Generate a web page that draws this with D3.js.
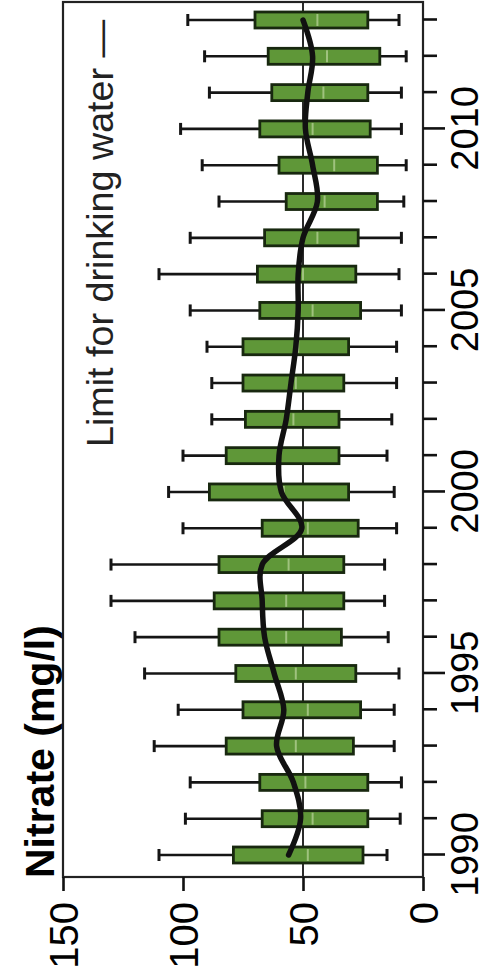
<!DOCTYPE html>
<html><head><meta charset="utf-8">
<script src="https://cdn.jsdelivr.net/npm/d3@7"></script>
<style>html,body{margin:0;padding:0;background:#fff;}svg{display:block;}</style>
</head><body>
<script>
const years = [1990,1991,1992,1993,1994,1995,1996,1997,1998,1999,2000,2001,2002,2003,2004,2005,2006,2007,2008,2009,2010,2011,2012,2013];
const whiskerHigh = [110,99,97,112,102,116,120,130,130,100,106,100,88,88,90,97,110,97,85,92,101,89,91,98];
const q3 = [79,67,68,82,75,78,85,87,85,67,89,82,74,75,75,68,69,66,57,60,68,63,64.5,70];
const median = [48,46,49,53,48,53,57,57,56,48,58,60,54,53,52,46,50,44,41,37,46,41.5,40,44];
const q1 = [25,23,23,29,26,28,34,33,33,27,31,35,35,33,31,26,28,27,19,19,22,23,18,23];
const whiskerLow = [15,9.5,9,12,12,10,14.5,16,16,11,12,15,13,11,11,9,10,9,8,7,9,9,7,10];
const trend = [56,51,54,61,58,62,66,67,67,50.5,59,60,57,55,53,52,52,50,44,46,49,48,46,50];
const valueTicks = [0,50,100,150];
const labelYears = [1990,1995,2000,2005,2010];
const limitValue = 50;
const titleText = "Nitrate (mg/l)";
const legendText = "Limit for drinking water \u2014";

const W = 488, H = 980;
const svg = d3.select("body").append("svg").attr("width", W).attr("height", H);
// draw in a rotated frame: inner x -> outer up, inner y -> outer right
const g = svg.append("g").attr("transform", `translate(0,${H}) rotate(-90)`);

const x = d3.scaleLinear().domain([1990, 2013]).range([125, 960]);
const y = d3.scaleLinear().domain([0, 150]).range([423, 63]);
const font = "'Liberation Sans', Arial, Helvetica, sans-serif";

// limit line
g.append("line")
  .attr("x1", 103).attr("x2", 978)
  .attr("y1", y(limitValue)).attr("y2", y(limitValue))
  .attr("stroke", "#2a2a2a").attr("stroke-width", 2);

const data = years.map((yr, i) => ({yr, hi: whiskerHigh[i], q3: q3[i], med: median[i], q1: q1[i], lo: whiskerLow[i]}));
const bw = 16, cap = 12;
const bx = g.append("g").selectAll("g").data(data).join("g");
bx.append("line").attr("x1", d => x(d.yr)).attr("x2", d => x(d.yr))
  .attr("y1", d => y(d.hi)).attr("y2", d => y(d.lo))
  .attr("stroke", "#151515").attr("stroke-width", 2.6);
bx.append("line").attr("x1", d => x(d.yr) - cap/2).attr("x2", d => x(d.yr) + cap/2)
  .attr("y1", d => y(d.hi)).attr("y2", d => y(d.hi))
  .attr("stroke", "#151515").attr("stroke-width", 3);
bx.append("line").attr("x1", d => x(d.yr) - cap/2).attr("x2", d => x(d.yr) + cap/2)
  .attr("y1", d => y(d.lo)).attr("y2", d => y(d.lo))
  .attr("stroke", "#151515").attr("stroke-width", 3);
bx.append("rect").attr("x", d => x(d.yr) - bw/2).attr("width", bw)
  .attr("y", d => y(d.q3)).attr("height", d => y(d.q1) - y(d.q3))
  .attr("fill", "#5f9738").attr("stroke", "#18280f").attr("stroke-width", 2.8);
bx.append("line").attr("x1", d => x(d.yr) - bw/2 + 2).attr("x2", d => x(d.yr) + bw/2 - 2)
  .attr("y1", d => y(d.med)).attr("y2", d => y(d.med))
  .attr("stroke", "#9fc27e").attr("stroke-width", 2);

// trend line
g.append("path")
  .datum(years.map((yr, i) => [yr, trend[i]]))
  .attr("fill", "none").attr("stroke", "#111").attr("stroke-width", 5.5)
  .attr("stroke-linejoin", "round").attr("stroke-linecap", "round")
  .attr("d", d3.line().x(d => x(d[0])).y(d => y(d[1])).curve(d3.curveCatmullRom.alpha(0.5)));

// frame
g.append("rect").attr("x", 103).attr("y", 63).attr("width", 978 - 103).attr("height", 423 - 63)
  .attr("fill", "none").attr("stroke", "#222").attr("stroke-width", 2.2);

// value axis
const ya = g.append("g").attr("transform", "translate(103,0)")
  .call(d3.axisLeft(y).tickValues(valueTicks).tickSize(14).tickPadding(11));
ya.select(".domain").remove();
ya.selectAll("line").attr("stroke", "#111").attr("stroke-width", 2.6);
ya.selectAll("text").attr("font-family", font).attr("font-size", 40).attr("fill", "#000").attr("dy", "0.36em");

// year axis
const xa = g.append("g").attr("transform", "translate(0,423)")
  .call(d3.axisBottom(x).tickValues(years).tickSize(14)
    .tickFormat(d => labelYears.includes(d) ? String(d) : ""));
xa.select(".domain").remove();
xa.selectAll("line").attr("stroke", "#111").attr("stroke-width", 2.6)
  .attr("y2", d => labelYears.includes(d) ? 22 : 14);
xa.selectAll("text").attr("font-family", font).attr("font-size", 38).attr("fill", "#000")
  .attr("y", 55).attr("dy", 0);

// title
g.append("text").attr("x", 102).attr("y", 54)
  .attr("font-family", font).attr("font-weight", "bold").attr("font-size", 41)
  .attr("fill", "#000").text(titleText);

// legend
g.append("text").attr("x", 533).attr("y", 113)
  .attr("font-family", font).attr("font-size", 37.7)
  .attr("fill", "#222").text(legendText);
</script>
</body></html>
